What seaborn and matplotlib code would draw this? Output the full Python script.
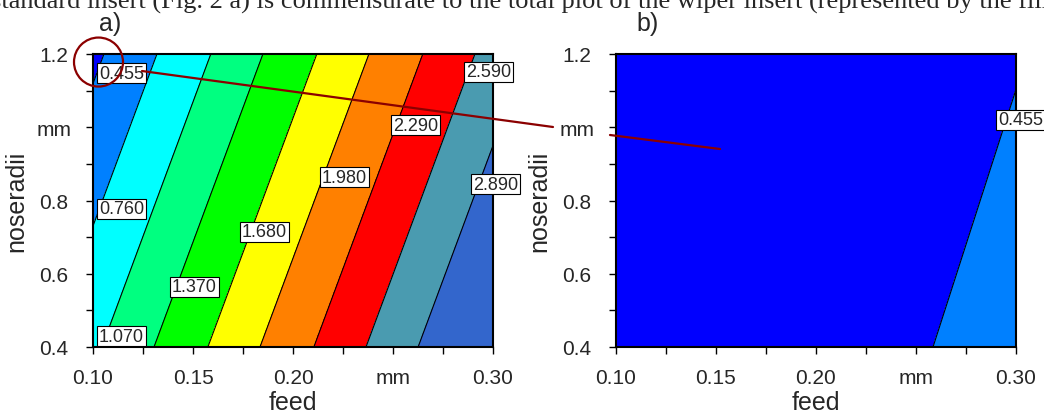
import matplotlib.pyplot as plt
import seaborn as sns
import numpy as np
from matplotlib.patches import Ellipse
from matplotlib.lines import Line2D

# corner values of the fitted surfaces (rows = noseradii, cols = feed)
feed = [0.10, 0.30]
noseradii = [0.4, 1.2]
ra_a = [[1.019, 3.321],
        [0.392, 2.694]]
ra_b = [[-0.3375, 0.6625],
        [-0.5735, 0.4265]]

levels = [0.455, 0.760, 1.070, 1.370, 1.680, 1.980, 2.290, 2.590, 2.890]
level_text = ["0.455", "0.760", "1.070", "1.370", "1.680", "1.980", "2.290", "2.590", "2.890"]
fill_colors = ["#0000FF", "#0080FF", "#00FFFF", "#00FF80", "#00FF00",
               "#FFFF00", "#FF8000", "#FF0000", "#4A9BB0", "#3366CC"]

# where the contour labels sit (left edge of box)
label_feed_a = [0.103, 0.103, 0.103, 0.1395, 0.1745, 0.2145, 0.250, 0.2865, 0.290]
label_nose_a = [1.148, 0.777, 0.430, 0.564, 0.714, 0.864, 1.006, 1.151, 0.845]
label_feed_b = [0.291]
label_nose_b = [1.02]
label_text_b = ["0.455"]

xticks = [0.10, 0.125, 0.15, 0.175, 0.20, 0.225, 0.25, 0.275, 0.30]
xticklabels = ["0.10", "", "0.15", "", "0.20", "", "mm", "", "0.30"]
yticks = [0.4, 0.5, 0.6, 0.7, 0.8, 0.9, 1.0, 1.1, 1.2]
yticklabels = ["0.4", "", "0.6", "", "0.8", "", "mm", "", "1.2"]

sns.set_style("ticks")
plt.rcParams["font.family"] = ["Liberation Sans", "DejaVu Sans"]

fig = plt.figure(figsize=(10.44, 4.14), dpi=100)
ax_a = fig.add_axes([93 / 1044, 1 - 348 / 414, 400 / 1044, 293 / 414])
ax_b = fig.add_axes([616 / 1044, 1 - 348 / 414, 400 / 1044, 293 / 414])

palette = sns.color_palette(fill_colors)
fill_levels = [-2.0] + levels + [5.0]

F, R = np.meshgrid(feed, noseradii)


def draw_panel(ax, Z, lab_f, lab_r, lab_t):
    ax.contourf(F, R, np.array(Z), levels=fill_levels, colors=palette)
    ax.contour(F, R, np.array(Z), levels=levels, colors="black", linewidths=0.8)
    for f, r, t in zip(lab_f, lab_r, lab_t):
        ax.text(f, r, t, fontsize=13, ha="left", va="center", clip_on=False, zorder=5,
                bbox=dict(boxstyle="square,pad=0.1", fc="white", ec="black", lw=0.8))
    ax.set_xlim(0.10, 0.30)
    ax.set_ylim(0.4, 1.2)
    ax.set_xticks(xticks)
    ax.set_xticklabels(xticklabels)
    ax.set_yticks(yticks)
    ax.set_yticklabels(yticklabels)
    ax.tick_params(axis="x", direction="out", length=5, width=1, pad=10, labelsize=15, color="black")
    ax.tick_params(axis="y", direction="out", length=5, width=1, pad=23, labelsize=15, color="black")
    for lbl in ax.get_yticklabels():
        lbl.set_horizontalalignment("center")
    for sp in ax.spines.values():
        sp.set_linewidth(1.5)
        sp.set_color("black")
    ax.set_xlabel("feed", fontsize=18, labelpad=2)
    ax.set_ylabel("noseradii", fontsize=18, labelpad=6)


draw_panel(ax_a, ra_a, label_feed_a, label_nose_a, level_text)
draw_panel(ax_b, ra_b, label_feed_b, label_nose_b, label_text_b)

# panel letters and the cut-off line of body text above
fig.text(99 / 1044, 1 - 31 / 414, "a)", fontsize=18, va="baseline")
fig.text(636 / 1044, 1 - 31 / 414, "b)", fontsize=18, va="baseline")
fig.text(-9 / 1044, 1 - 9 / 414,
         "standard insert (Fig. 2 a) is commensurate to the total plot of the wiper insert (represented by the filled",
         fontsize=19, family="Liberation Serif", va="baseline")

# dark red highlight: circle around the corner and a pointer line
mark = "#8B0000"
ax_a.add_patch(Ellipse((0.10275, 1.178), 0.0245, 0.1338, fill=False, ec=mark, lw=1.6,
                       clip_on=False, zorder=6))
fig.add_artist(Line2D([142 / 1044, 553 / 1044], [1 - 72 / 414, 1 - 128 / 414], color=mark, lw=1.6))
fig.add_artist(Line2D([610 / 1044, 720 / 1044], [1 - 136 / 414, 1 - 150 / 414], color=mark, lw=1.6))

fig.savefig("out.png", dpi=100)
